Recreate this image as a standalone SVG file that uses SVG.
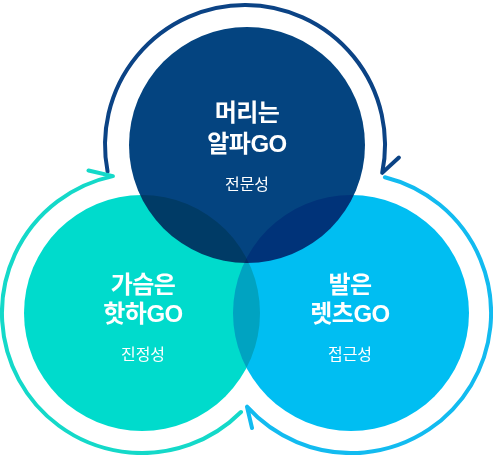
<svg xmlns="http://www.w3.org/2000/svg" width="493" height="455" viewBox="0 0 493 455">
  <style>
    .circle { mix-blend-mode: multiply; }
    .title { font-family: "Liberation Sans", "Noto Sans CJK KR", sans-serif; font-size: 24px; font-weight: 700; fill: #ffffff; text-anchor: middle; letter-spacing: -0.5px; }
    .sub { font-family: "Noto Sans CJK KR", "Noto Sans", sans-serif; font-size: 16px; font-weight: 400; fill: #ffffff; text-anchor: middle; }
    .arc { fill: none; stroke-width: 4; stroke-linecap: round; stroke-linejoin: round; }
  </style>
  <rect x="0" y="0" width="493" height="455" fill="#ffffff"/>
  <g id="circles" style="isolation:isolate">
    <g id="node-heart">
      <circle class="circle" cx="142" cy="313" r="118" fill="#00dbcc"/>
    </g>
    <g id="node-feet">
      <circle class="circle" cx="351" cy="313" r="118" fill="#00bef2"/>
    </g>
    <g id="node-head">
      <circle class="circle" cx="247" cy="145" r="118" fill="#044480"/>
    </g>
  </g>
  <g id="connectors">
    <path class="arc" stroke="#0b4385" d="M 107.6 171.7 A 140 140 0 1 1 382.2 172.9 L 398.9 157.5"/>
    <path class="arc" stroke="#14d9c9" d="M 241 412 A 140 140 0 1 1 112.9 176.1 L 88.5 170.5"/>
    <path class="arc" stroke="#12bbf0" d="M 384.9 177.2 A 140 140 0 1 1 247 406.7 L 252 428"/>
  </g>
  <g id="labels-head">
    <text class="title" x="247" y="121"><tspan x="247" y="121">머리는</tspan><tspan x="247" y="152">알파GO</tspan></text>
    <text class="sub" x="247" y="190">전문성</text>
  </g>
  <g id="labels-heart">
    <text class="title" x="143" y="293"><tspan x="143" y="293">가슴은</tspan><tspan x="143" y="322">핫하GO</tspan></text>
    <text class="sub" x="143" y="360">진정성</text>
  </g>
  <g id="labels-feet">
    <text class="title" x="350" y="293"><tspan x="350" y="293">발은</tspan><tspan x="350" y="322">렛츠GO</tspan></text>
    <text class="sub" x="350" y="360">접근성</text>
  </g>
</svg>
